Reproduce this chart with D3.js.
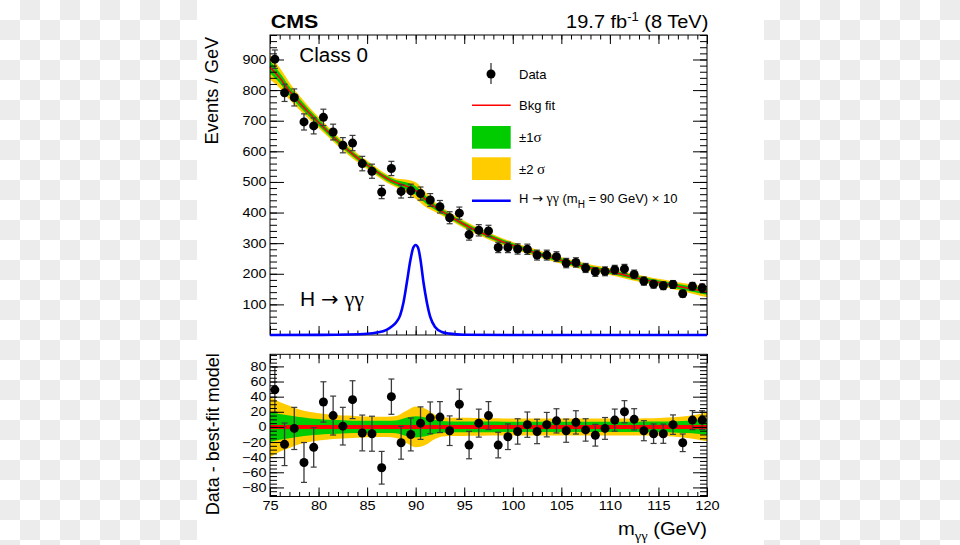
<!DOCTYPE html>
<html><head><meta charset="utf-8">
<script src="https://cdn.jsdelivr.net/npm/d3@7"></script>
<style>body{margin:0;background:#fff}svg{display:block}</style>
</head><body><script>
// ---------------- data ----------------
const binCenters=[75.5,76.5,77.5,78.5,79.5,80.5,81.5,82.5,83.5,84.5,85.5,86.5,87.5,88.5,89.5,90.5,91.5,92.5,93.5,94.5,95.5,96.5,97.5,98.5,99.5,100.5,101.5,102.5,103.5,104.5,105.5,106.5,107.5,108.5,109.5,110.5,111.5,112.5,113.5,114.5,115.5,116.5,117.5,118.5,119.5];
const events=[901,791,776,696,683,711,663,620,627,560,535,467,544,469,471,462,441,419,383,398,328,342,340,286,286,281,280,261,261,256,235,237,219,206,208,213,216,198,176,166,161,165,135,159,154];
const residuals=[49,-23,-2,-47,-27,33,15,1,36,-8,-9,-54,40,-21,-10,5,12,13,-5,30,-24,5,15,-24,-13,-6,3,-6,3,8,-5,6,-4,-11,-2,9,20,10,-5,-9,-9,3,-21,9,9];
const fitMass=[75,76,77,78,79,80,81,82,83,84,85,86,87,88,89,90,91,92,93,94,95,96,97,98,99,100,101,102,103,104,105,106,107,108,109,110,111,112,113,114,115,116,117,118,119,120];
const fitVal=[875,840,797,760,726,694,663,633,605,579,556,533,512,497,487,472,443,418,398,379,361,345,331,317,304,293,282,272,262,253,244,235,227,219,213,207,200,192,185,178,172,166,159,153,147,142];
const sigma1=[20,17,15,13,11.5,10.5,9.5,9,8.5,8.2,8,8,8,8.5,12,14,12.5,9,7.5,7.2,7,7,7,7,6.8,6.8,6.8,6.8,6.8,6.8,6.8,6.8,6.8,6.8,6.8,6.8,6.8,6.8,6.8,7,7,7.2,7.6,8.2,9.2,10.5];
const sigma2=[40,33,28,23,20,18,16.5,15.5,15,14.2,13.7,13.5,13.5,14.5,21,27,24,16,12.5,12,12,11.8,11.6,11.4,11.2,11.2,11.2,11.2,11.2,11.2,11.2,11.2,11.2,11.2,11.2,11.2,11.2,11.2,11.2,11.4,11.8,12.4,13.2,14.5,16.5,19];
const sigMass=[75,80,83,85,86,87,87.5,88,88.4,88.75,89.1,89.45,89.75,90,90.25,90.5,90.8,91.15,91.5,92,92.7,93.5,95,100,120];
const sigVal=[0,0.5,1.5,4,8,17,27,42,64,107,173,243,285,294,285,245,173,107,59,26,10,4.5,1,0,0];
const xTicks=[75,80,85,90,95,100,105,110,115,120];
const yTopTicks=[100,200,300,400,500,600,700,800,900];
const yBotTicks=[-80,-60,-40,-20,0,20,40,60,80];

// ---------------- setup ----------------
const W=960,H=545;
const SANS="'Liberation Sans', Arial, Helvetica, sans-serif";
const SERIF="'Liberation Serif', 'Times New Roman', serif";
const ARROW="'DejaVu Sans', sans-serif";
const svg=d3.select("body").append("svg").attr("width",W).attr("height",H);
const defs=svg.append("defs");
const pat=defs.append("pattern").attr("id","chk").attr("patternUnits","userSpaceOnUse").attr("width",40).attr("height",40);
pat.append("rect").attr("width",40).attr("height",40).attr("fill","#fff");
pat.append("rect").attr("x",20).attr("y",0).attr("width",20).attr("height",20).attr("fill","#ececec");
pat.append("rect").attr("x",0).attr("y",20).attr("width",20).attr("height",20).attr("fill","#ececec");
svg.append("rect").attr("width",W).attr("height",H).attr("fill","url(#chk)");
svg.append("rect").attr("x",197).attr("y",0).attr("width",567).attr("height",H).attr("fill","#fff");

const x=d3.scaleLinear().domain([75,120]).range([270,707]);
const yT=d3.scaleLinear().domain([0,980]).range([335,35]);
const yB=d3.scaleLinear().domain([-92,96]).range([496.5,354.3]);

const GREEN="#00cc00",YELLOW="#ffcc00",RED="#ff0000",BLUE="#0000ff";

function txt(px,py,size,sx,anchor,weight){
  const g=svg.append("g").attr("transform",`translate(${px},${py}) scale(${sx},1)`);
  return g.append("text").attr("font-family",SANS).attr("font-size",size)
    .attr("text-anchor",anchor||"start").attr("font-weight",weight||"normal").attr("fill","#000");
}

// ---------------- top panel ----------------
const gTop=svg.append("g");
const bandIdx=d3.range(fitMass.length);
const areaT=(s)=>d3.area().curve(d3.curveMonotoneX).x(i=>x(fitMass[i]))
  .y0(i=>yT(fitVal[i]-s[i])).y1(i=>yT(fitVal[i]+s[i]));
gTop.append("path").datum(bandIdx).attr("d",areaT(sigma2)).attr("fill",YELLOW);
gTop.append("path").datum(bandIdx).attr("d",areaT(sigma1)).attr("fill",GREEN);
gTop.append("path").datum(bandIdx).attr("d",d3.line().curve(d3.curveMonotoneX).x(i=>x(fitMass[i])).y(i=>yT(fitVal[i])))
  .attr("fill","none").attr("stroke",RED).attr("stroke-width",1.6);

function drawPoints(g,ys,vals,errs){
  const pts=g.selectAll(null).data(binCenters.map((m,i)=>({m,v:vals[i],e:errs[i]}))).enter().append("g");
  pts.append("line").attr("x1",d=>x(d.m)).attr("x2",d=>x(d.m)).attr("y1",d=>ys(d.v-d.e)).attr("y2",d=>ys(d.v+d.e))
    .attr("stroke","#3a3a3a").attr("stroke-width",1.3);
  pts.append("line").attr("x1",d=>x(d.m)-3).attr("x2",d=>x(d.m)+3).attr("y1",d=>ys(d.v-d.e)).attr("y2",d=>ys(d.v-d.e))
    .attr("stroke","#3a3a3a").attr("stroke-width",1.2);
  pts.append("line").attr("x1",d=>x(d.m)-3).attr("x2",d=>x(d.m)+3).attr("y1",d=>ys(d.v+d.e)).attr("y2",d=>ys(d.v+d.e))
    .attr("stroke","#3a3a3a").attr("stroke-width",1.2);
  pts.append("circle").attr("cx",d=>x(d.m)).attr("cy",d=>ys(d.v)).attr("r",4.5).attr("fill","#000");
}
const errs=events.map(v=>Math.sqrt(v));
drawPoints(gTop,yT,events,errs);

// frame + ticks
function frame(g,y0,y1){
  g.append("rect").attr("x",270).attr("y",y0).attr("width",437).attr("height",y1-y0)
   .attr("fill","none").attr("stroke","#000").attr("stroke-width",1);
}
function ticks(g,axisGen,tx,ty,vals,size,fmt){
  const a=axisGen.tickValues(vals).tickSizeInner(-size).tickSizeOuter(0);
  if(fmt===null) a.tickFormat("");
  const s=g.append("g").attr("transform",`translate(${tx},${ty})`).call(a);
  s.select(".domain").remove();
  s.selectAll("line").attr("stroke","#000").attr("stroke-width",1);
  return s;
}
frame(gTop,35,335);
const xMinor=d3.range(75,121,1), yTMinor=d3.range(0,981,20), yBMinor=d3.range(-90,96,5);
ticks(gTop,d3.axisBottom(x),0,335,xTicks,9,null);
ticks(gTop,d3.axisBottom(x),0,335,xMinor,4.5,null);
ticks(gTop,d3.axisTop(x),0,35,xTicks,9,null);
ticks(gTop,d3.axisTop(x),0,35,xMinor,4.5,null);
ticks(gTop,d3.axisRight(yT),707,0,yTopTicks,14,null);
ticks(gTop,d3.axisRight(yT),707,0,yTMinor,7,null);
ticks(gTop,d3.axisLeft(yT),270,0,yTMinor,7,null);
const lt=ticks(gTop,d3.axisLeft(yT).tickPadding(3.5),270,0,yTopTicks,14);
lt.selectAll("text").attr("font-family",SANS).attr("font-size",12.5).attr("fill","#000")
  .attr("transform","scale(1.15,1)").attr("x",-3.5/1.15);

// signal
gTop.append("path").datum(sigMass.map((m,i)=>[m,sigVal[i]]))
  .attr("d",d3.line().curve(d3.curveMonotoneX).x(d=>x(d[0])).y(d=>yT(d[1])))
  .attr("fill","none").attr("stroke",BLUE).attr("stroke-width",2.6);

// ---------------- bottom panel ----------------
const gBot=svg.append("g");
const areaB=(s)=>d3.area().curve(d3.curveMonotoneX).x(i=>x(fitMass[i])).y0(i=>yB(-s[i])).y1(i=>yB(s[i]));
gBot.append("path").datum(bandIdx).attr("d",areaB(sigma2)).attr("fill",YELLOW);
gBot.append("path").datum(bandIdx).attr("d",areaB(sigma1)).attr("fill",GREEN);
gBot.append("line").attr("x1",x(75)).attr("x2",x(120)).attr("y1",yB(0)).attr("y2",yB(0)).attr("stroke",RED).attr("stroke-width",4);
drawPoints(gBot,yB,residuals,errs);
frame(gBot,354.3,496.5);
ticks(gBot,d3.axisTop(x),0,354.3,xTicks,9,null);
ticks(gBot,d3.axisTop(x),0,354.3,xMinor,4.5,null);
ticks(gBot,d3.axisBottom(x),0,496.5,xMinor,4.5,null);
const bx=ticks(gBot,d3.axisBottom(x).tickPadding(4),0,496.5,xTicks,9);
bx.selectAll("text").attr("font-family",SANS).attr("font-size",13).attr("fill","#000").attr("transform","scale(1.12,1)");
ticks(gBot,d3.axisRight(yB),707,0,yBotTicks,14,null);
ticks(gBot,d3.axisRight(yB),707,0,yBMinor,7,null);
ticks(gBot,d3.axisLeft(yB),270,0,yBMinor,7,null);
const bl=ticks(gBot,d3.axisLeft(yB).tickPadding(3.5),270,0,yBotTicks,14);
bl.selectAll("text").attr("font-family",SANS).attr("font-size",12.5).attr("fill","#000")
  .attr("transform","scale(1.15,1)").attr("x",-3.5/1.15);

// ---------------- texts ----------------
txt(270.7,28.3,18.6,1.15,"start","bold").text("CMS");
const lum=txt(708.3,28.3,18.5,1.08,"end");
lum.append("tspan").text("19.7 fb");
lum.append("tspan").attr("font-size",12).attr("dy",-7).text("-1");
lum.append("tspan").attr("dy",7).text(" (8 TeV)");
txt(299.3,62,20,1.03,"start").text("Class 0");
const hg=txt(300,306,20,1.05,"start");
hg.append("tspan").text("H ");
hg.append("tspan").attr("font-family",ARROW).text("\u2192");
hg.append("tspan").text(" ");
hg.append("tspan").attr("font-family",SERIF).attr("font-size",21).text("\u03b3\u03b3");

svg.append("text").attr("transform","translate(218.3,36.7) rotate(-90)").attr("font-family",SANS)
  .attr("font-size",18.3).attr("text-anchor","end").text("Events / GeV");
svg.append("text").attr("transform","translate(219.3,353.3) rotate(-90)").attr("font-family",SANS)
  .attr("font-size",18).attr("text-anchor","end").text("Data - best-fit model");
const xt=txt(707,535,18,1.12,"end");
xt.append("tspan").text("m");
xt.append("tspan").attr("font-family",SERIF).attr("font-size",13).attr("dy",5).text("\u03b3\u03b3");
xt.append("tspan").attr("dy",-5).text(" (GeV)");

// ---------------- legend ----------------
const lg=svg.append("g");
lg.append("line").attr("x1",491).attr("x2",491).attr("y1",63).attr("y2",84).attr("stroke","#3a3a3a").attr("stroke-width",1.3);
lg.append("circle").attr("cx",491).attr("cy",74).attr("r",4.5).attr("fill","#000");
lg.append("line").attr("x1",472).attr("x2",510.7).attr("y1",105.3).attr("y2",105.3).attr("stroke",RED).attr("stroke-width",1.6);
lg.append("rect").attr("x",472).attr("y",126).attr("width",38.7).attr("height",22.7).attr("fill",GREEN);
lg.append("rect").attr("x",472).attr("y",157.3).attr("width",38.7).attr("height",22.7).attr("fill",YELLOW);
lg.append("line").attr("x1",472).attr("x2",510.7).attr("y1",200.7).attr("y2",200.7).attr("stroke",BLUE).attr("stroke-width",2.6);
txt(519,79,13,1,"start").text("Data");
txt(519,110,13,1,"start").text("Bkg fit");
const s1=txt(519,142,13,1,"start"); s1.append("tspan").text("\u00b11"); s1.append("tspan").attr("font-family",SERIF).attr("font-size",15).text("\u03c3");
const s2=txt(519,173.5,13,1,"start"); s2.append("tspan").text("\u00b12 "); s2.append("tspan").attr("font-family",SERIF).attr("font-size",15).text("\u03c3");
const sl=txt(519,203.3,13,1,"start");
sl.append("tspan").text("H ");
sl.append("tspan").attr("font-family",ARROW).text("\u2192");
sl.append("tspan").text(" ");
sl.append("tspan").attr("font-family",SERIF).attr("font-size",14).text("\u03b3\u03b3");
sl.append("tspan").text(" (m");
sl.append("tspan").attr("font-size",10).attr("dy",5).text("H");
sl.append("tspan").attr("dy",-5).text(" = 90 GeV) \u00d7 10");
</script></body></html>
